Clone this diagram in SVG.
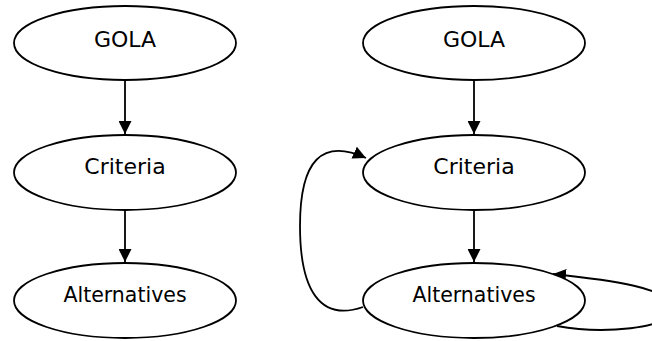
<svg xmlns="http://www.w3.org/2000/svg" width="652" height="341" viewBox="0 0 652 341">
<style>
.node ellipse{fill:#fff;stroke:#000;stroke-width:1.8}
.node text{font-family:"DejaVu Sans","Verdana",sans-serif;font-size:22px;fill:#000;text-anchor:middle}
.node text.alt{font-size:20.5px}
.edge{fill:none;stroke:#000;stroke-width:1.8}
</style>
<defs>
<marker id="arr" viewBox="0 0 12 12" refX="12" refY="6" markerWidth="13" markerHeight="13" markerUnits="userSpaceOnUse" orient="auto">
<path d="M0,0 L12,6 L0,12 Z" fill="#000"/>
</marker>
</defs>
<g id="connectors">
<path class="edge" d="M125,80 L125,134" marker-end="url(#arr)"/>
<path class="edge" d="M125,210 L125,262" marker-end="url(#arr)"/>
<path class="edge" d="M474,80 L474,134" marker-end="url(#arr)"/>
<path class="edge" d="M474,210 L474,262" marker-end="url(#arr)"/>
<path class="edge" d="M363,307 C320,322 300,290 300,226 C300,160 322,138 366,158" marker-end="url(#arr)"/>
<path class="edge" d="M557,326 C600,334 672,330 672,308 C672,288 610,280 553,274" marker-end="url(#arr)"/>
</g>
<g id="l-gola" class="node"><ellipse cx="125" cy="43" rx="111" ry="37"/><text x="125" y="47">GOLA</text></g>
<g id="l-criteria" class="node"><ellipse cx="125" cy="172.5" rx="111" ry="37.5"/><text x="125" y="174">Criteria</text></g>
<g id="l-alternatives" class="node"><ellipse cx="125" cy="300.5" rx="111" ry="37.5"/><text class="alt" x="125" y="302">Alternatives</text></g>
<g id="r-gola" class="node"><ellipse cx="474" cy="43" rx="111" ry="37"/><text x="474" y="47">GOLA</text></g>
<g id="r-criteria" class="node"><ellipse cx="474" cy="172.5" rx="111" ry="37.5"/><text x="474" y="174">Criteria</text></g>
<g id="r-alternatives" class="node"><ellipse cx="474" cy="300.5" rx="111" ry="37.5"/><text class="alt" x="474" y="302">Alternatives</text></g>
</svg>
